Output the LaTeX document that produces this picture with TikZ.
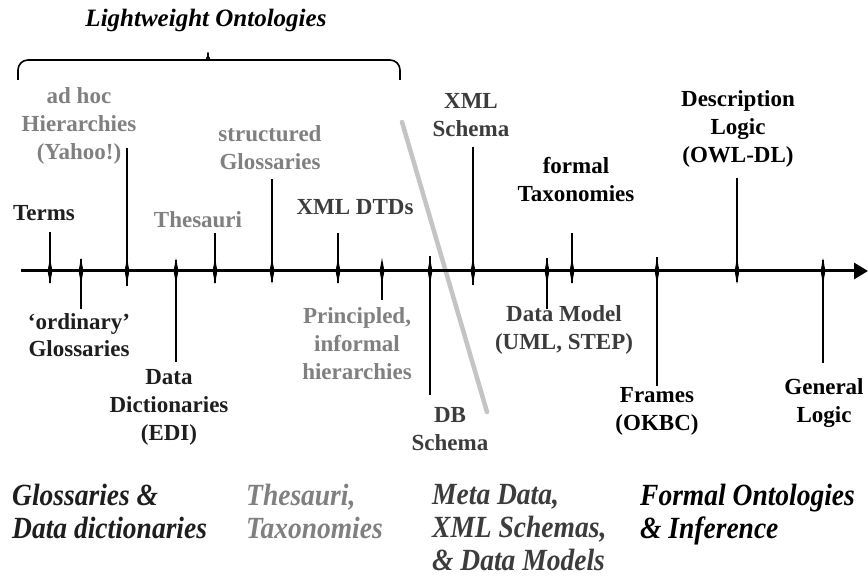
\documentclass[tikz,border=0pt]{standalone}
\usepackage{fontspec}
\usepackage{graphicx}
\setmainfont{Liberation Serif}
\usetikzlibrary{arrows.meta}
\definecolor{inkA}{HTML}{1E1E1E}
\definecolor{inkB}{HTML}{808080}
\definecolor{inkC}{HTML}{3C3C3C}
\definecolor{divider}{HTML}{C4C4C4}
% slightly taller lettering for the category captions
\newcommand\tallline[1]{\scalebox{1}[1.12]{#1}}
\tikzset{
  lbl/.style={font=\fontsize{23}{28}\selectfont\bfseries, align=center, inner sep=0pt, anchor=base},
  cat/.style={font=\fontsize{27.5}{33}\selectfont\bfseries\itshape, align=left, inner sep=0pt, anchor=base west},
  tickline/.style={line width=1.8pt},
  spindle/.pic={\fill (0,-13) -- (2.4,0) -- (0,13) -- (-2.4,0) -- cycle;},
  bracket/.style={line width=1.6pt, line join=round, rounded corners=10pt},
}
\begin{document}
\begin{tikzpicture}[x=1pt,y=-1pt]
\useasboundingbox (0,0) rectangle (868,577);

% title and brace over the lightweight part
\node[font=\fontsize{25}{30}\selectfont\bfseries\itshape, inner sep=0pt, anchor=base] (title) at (206,27) {Lightweight Ontologies};
\draw[bracket] (18,80) -- (18,60) -- (198,60)
  .. controls (205,60) and (208,56) .. (208,47)
  .. controls (208,56) and (211,60) .. (218,60) -- (400,60) -- (400,80);

% grey divider between informal and formal parts
\coordinate (divA) at (402,122);
\coordinate (divB) at (487,412);
\draw[divider, line width=4.5pt, line cap=round] (divA) -- (divB);

% ticks on the time line
\foreach \n/\x/\t/\b in {1/50/232/283, 2/81/259/309, 3/127/148/286, 4/176/260/362,
    5/215/233/283, 6/272/179/282, 7/338/233/283, 8/382/262/300, 9/430/256/395,
    10/473/147/285, 11/547/258/309, 12/572/233/283, 13/657/257/386,
    14/737/178/282, 15/823/260/363} {
  \coordinate (tk\n a) at (\x,\t);
  \coordinate (tk\n b) at (\x,\b);
  \draw[tickline] (tk\n a) -- (tk\n b);
  \pic at (\x,271) {spindle};
}

% main axis
\coordinate (axL) at (21,271);
\coordinate (axR) at (868,271);
\draw[line width=3pt, -{Triangle[length=14pt,width=16pt]}] (axL) -- (axR);

% labels above the axis (placed by the baseline of their last line)
\node[lbl, text=inkA] (terms) at (44,221) {Terms};
\node[lbl, text=inkB] (adhoc) at (79,160) {ad hoc\\Hierarchies\\(Yahoo!)};
\node[lbl, text=inkB] (thes) at (198,228) {Thesauri};
\node[lbl, text=inkB] (struct) at (270,170) {structured\\Glossaries};
\node[lbl, text=inkC] (dtd) at (355,215) {XML DTDs};
\node[lbl, text=inkC] (xmls) at (471,137) {XML\\Schema};
\node[lbl, text=black] (ftax) at (576,202) {formal\\Taxonomies};
\node[lbl, text=black] (dl) at (738,163) {Description\\Logic\\(OWL-DL)};

% labels below the axis
\node[lbl, text=inkA] (ord) at (79,357) {‘ordinary’\\Glossaries};
\node[lbl, text=inkA] (dd) at (169,440) {Data\\Dictionaries\\(EDI)};
\node[lbl, text=inkB] (pri) at (357,380) {Principled,\\informal\\hierarchies};
\node[lbl, text=inkC] (db) at (450,450) {DB\\Schema};
\node[lbl, text=inkC] (dm) at (564,350) {Data Model\\(UML, STEP)};
\node[lbl, text=black] (fr) at (657,430) {Frames\\(OKBC)};
\node[lbl, text=black] (gl) at (824,422) {General\\Logic};

% categories along the bottom
\node[cat, text=inkA] (c1) at (12,538) {\tallline{Glossaries \&}\\\tallline{Data dictionaries}};
\node[cat, text=inkB] (c2) at (246,538) {\tallline{Thesauri,}\\\tallline{Taxonomies}};
\node[cat, text=inkC] (c3) at (432,570) {\tallline{Meta Data,}\\\tallline{XML Schemas,}\\\tallline{\& Data Models}};
\node[cat, text=black] (c4) at (640,538) {\tallline{Formal Ontologies}\\\tallline{\& Inference}};
\end{tikzpicture}
\end{document}
